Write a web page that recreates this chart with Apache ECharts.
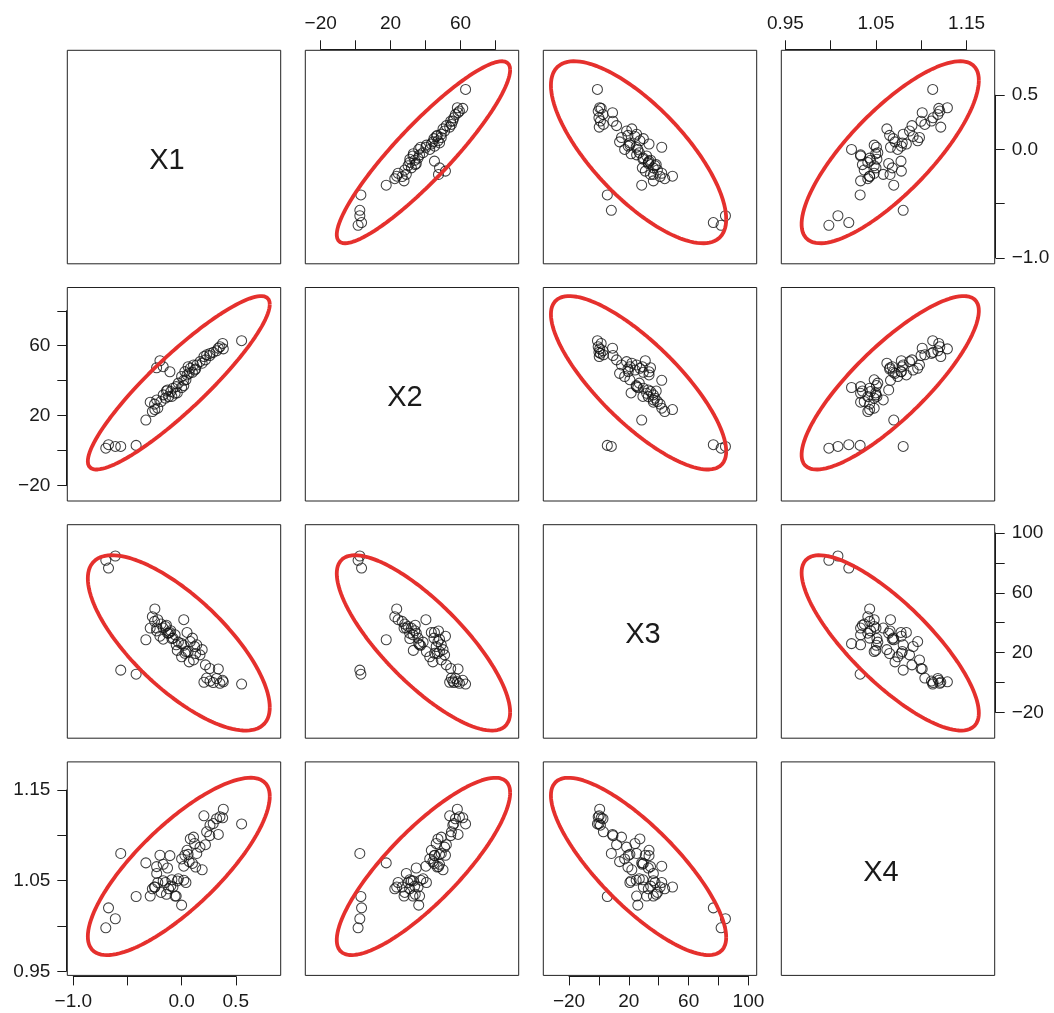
<!DOCTYPE html>
<html>
<head>
<meta charset="utf-8">
<script src="https://cdn.jsdelivr.net/npm/echarts@6/dist/echarts.min.js"></script>
<style>html,body{margin:0;padding:0;background:#fff}#c{width:1054px;height:1013px}</style>
</head>
<body>
<div id="c"></div>
<script>
// ---- variables (names shown on the diagonal) ----
const VAR_NAMES = ['X1', 'X2', 'X3', 'X4'];

// ---- observations (outliers, top group, spill, middle group, lower group) ----
const x1 = [-0.700, -0.675, -0.612, -0.562, -0.420, -0.330,
  0.554, 0.385, 0.379, 0.354, 0.323, 0.292, 0.262, 0.339, 0.231, 0.206,
  -0.200, -0.231, -0.108, -0.170,
  0.02, 0.05, 0.10, 0.08, 0.12, 0.14, 0.06, 0.03, 0.17, 0.11, 0.22, 0.00, 0.07, 0.13, 0.19, 0.26,
  -0.247, -0.27, -0.22, -0.25, -0.19, -0.23, -0.15, -0.12, -0.17, -0.10, -0.06, -0.08, 0.00, -0.13, -0.03, 0.04, -0.05, -0.29, -0.14, -0.09, 0.02, -0.04];
const x2 = [1.4, 3.4, 2.4, 2.4, 3.0, 17.5,
  62.9, 58.2, 61.3, 59.4, 57.1, 56.2, 55.6, 58.6, 54.8, 53.8,
  51.4, 47.4, 45.1, 48.0,
  40.2, 43.3, 44.8, 47.1, 46.1, 49.0, 48.0, 45.2, 50.9, 49.0, 51.9, 42.4, 44.2, 46.7, 50.0, 54.4,
  23.5, 22.4, 24.3, 26.6, 28.1, 29.0, 30.0, 30.9, 31.9, 33.8, 32.8, 35.7, 36.1, 34.7, 38.6, 40.5, 36.6, 27.7, 34.1, 31.0, 37.2, 33.0];
const x3 = [81.7, 76.5, 84.6, 8.3, 5.6, 28.6,
  -1.0, 0.5, 1.5, -0.5, 2.7, 0.0, 1.0, 9.1, 3.0, 0.2,
  31.0, 34.5, 33.5, 29.0,
  42.0, 33.5, 29.7, 27.4, 24.1, 25.2, 20.7, 19.6, 18.5, 15.1, 11.8, 17.2, 13.8, 19.4, 22.0, 9.4,
  49.2, 44.0, 42.0, 40.9, 39.1, 36.4, 37.5, 33.0, 36.4, 34.6, 31.9, 29.7, 26.0, 33.0, 27.0, 20.7, 25.2, 36.4, 38.3, 29.4, 24.9, 21.5];
const x4 = [0.998, 1.020, 1.008, 1.080, 1.0325, 1.0696,
  1.1126, 1.1288, 1.1193, 1.1204, 1.1183, 1.1130, 1.1112, 1.1010, 1.1039, 1.1215,
  1.078, 1.0655, 1.0776, 1.068,
  1.066, 1.0835, 1.069, 1.096, 1.091, 1.080, 1.079, 1.078, 1.087, 1.098, 1.0897, 1.074, 1.071, 1.065, 1.062, 1.0997,
  1.043, 1.041, 1.048, 1.043, 1.037, 1.058, 1.048, 1.041, 1.050, 1.044, 1.033, 1.043, 1.023, 1.064, 1.052, 1.048, 1.033, 1.033, 1.035, 1.051, 1.0505, 1.0497];

// ---- ellipse parameters (centre, half-extent along each variable, correlations) ----
const ELL_CENTER = [-0.026, 38.8, 26.5, 1.0657];
const ELL_HALF = [0.84, 49.6, 58.6, 0.0978];
const ELL_CORR = [
  [1, 0.905, -0.735, 0.79],
  [0.905, 1, -0.79, 0.83],
  [-0.735, -0.79, 1, -0.80],
  [0.79, 0.83, -0.80, 1]
];

// ---- axis limits of the panels ----
const AXIS_LO = [-1.0555, -28.8, -37.2, 0.9455];
const AXIS_HI = [0.915, 93.3, 105.5, 1.181];

// ---- outer tick axes ----
const TICK_MIN = [-1.0, -20, -20, 0.95];
const TICK_MAX = [0.5, 80, 100, 1.15];
const TICK_STEP = [0.5, 20, 20, 0.05];
const X1_TICK_LABELS = ['\u22121.0', '0.0', '0.5'];
const X2_TICK_LABELS = ['\u221220', '20', '60'];
const X3_TICK_LABELS = ['\u221220', '20', '60', '100'];
const X4_TICK_LABELS = ['0.95', '1.05', '1.15'];
const TICK_LABELS = [X1_TICK_LABELS, X2_TICK_LABELS, X3_TICK_LABELS, X4_TICK_LABELS];

// ---- layout / style ----
const L0 = 67.3, SX = 238, T0 = 50.3, SY = 237.2, PW = 213.4, PH = 213.5;
const FONT = "'Liberation Sans', Arial, Helvetica, sans-serif";
const INK = '#111111';
const RED = '#e5302d';

const DATA = [x1, x2, x3, x4];
const n = x1.length;

function panelLeft(c) { return L0 + c * SX; }
function panelTop(r) { return T0 + r * SY; }

function labelFormatter(v) {
  return function (val) {
    for (const s of TICK_LABELS[v]) {
      if (Math.abs(Number(s.replace('\u2212', '-')) - val) < 1e-6) return s;
    }
    return '';
  };
}

function ellipsePoints(xi, yi) {
  const pts = [];
  const r = ELL_CORR[yi][xi];
  const s = Math.sqrt(1 - r * r);
  const N = 240;
  for (let k = 0; k <= N; k++) {
    const t = 2 * Math.PI * k / N;
    pts.push([
      ELL_CENTER[xi] + ELL_HALF[xi] * Math.cos(t),
      ELL_CENTER[yi] + ELL_HALF[yi] * (r * Math.cos(t) + s * Math.sin(t))
    ]);
  }
  return pts;
}

const grids = [], xAxes = [], yAxes = [], series = [], graphics = [];

for (let r = 0; r < 4; r++) {
  for (let c = 0; c < 4; c++) {
    const gi = grids.length;
    grids.push({
      left: panelLeft(c), top: panelTop(r), width: PW, height: PH,
      show: true, borderColor: '#222222', borderWidth: 1, backgroundColor: 'transparent',
      containLabel: false
    });
    xAxes.push({ gridIndex: gi, type: 'value', min: AXIS_LO[c], max: AXIS_HI[c], show: false });
    yAxes.push({ gridIndex: gi, type: 'value', min: AXIS_LO[r], max: AXIS_HI[r], show: false });
    if (r === c) {
      graphics.push({
        type: 'text',
        x: panelLeft(c) + PW / 2 - 7,
        y: panelTop(r) + PH / 2 + 4,
        style: { text: VAR_NAMES[r], fontSize: 29, fontFamily: FONT, fill: '#1a1a1a', align: 'center', verticalAlign: 'middle' }
      });
    } else {
      const pts = [];
      for (let k = 0; k < n; k++) pts.push([DATA[c][k], DATA[r][k]]);
      series.push({
        type: 'scatter', xAxisIndex: gi, yAxisIndex: gi, data: pts,
        symbol: 'circle', symbolSize: 10,
        itemStyle: { color: 'rgba(255,255,255,0)', borderColor: INK, borderWidth: 1.05 },
        silent: true, z: 2
      });
      series.push({
        type: 'line', xAxisIndex: gi, yAxisIndex: gi, data: ellipsePoints(c, r),
        showSymbol: false, symbol: 'none', smooth: false,
        lineStyle: { color: RED, width: 3.8 }, silent: true, z: 3
      });
    }
  }
}

// outer tick axes: columns (x) and rows (y)
const X_SIDE = ['bottom', 'top', 'bottom', 'top'];
const Y_SIDE = ['right', 'left', 'right', 'left'];
const axisCommon = (v) => ({
  type: 'value', min: TICK_MIN[v], max: TICK_MAX[v], interval: TICK_STEP[v], offset: 1,
  axisLine: { show: true, onZero: false, lineStyle: { color: '#1a1a1a', width: 1 } },
  axisTick: { show: true, inside: false, length: 9, lineStyle: { color: '#1a1a1a', width: 1 } },
  axisLabel: { show: true, margin: 16, fontSize: 19, fontFamily: FONT, color: '#1a1a1a',
    showMinLabel: true, showMaxLabel: true, formatter: labelFormatter(v) },
  splitLine: { show: false }
});

for (let v = 0; v < 4; v++) {
  // x axis for column v
  const span = AXIS_HI[v] - AXIS_LO[v];
  const row = X_SIDE[v] === 'top' ? 0 : 3;
  let gi = grids.length;
  grids.push({
    left: panelLeft(v) + (TICK_MIN[v] - AXIS_LO[v]) / span * PW,
    width: (TICK_MAX[v] - TICK_MIN[v]) / span * PW,
    top: panelTop(row), height: PH, show: false
  });
  xAxes.push(Object.assign({ gridIndex: gi, position: X_SIDE[v] }, axisCommon(v)));
  yAxes.push({ gridIndex: gi, type: 'value', min: 0, max: 1, show: false });

  // y axis for row v
  const col = Y_SIDE[v] === 'right' ? 3 : 0;
  gi = grids.length;
  grids.push({
    left: panelLeft(col), width: PW,
    top: panelTop(v) + (AXIS_HI[v] - TICK_MAX[v]) / span * PH,
    height: (TICK_MAX[v] - TICK_MIN[v]) / span * PH, show: false
  });
  xAxes.push({ gridIndex: gi, type: 'value', min: 0, max: 1, show: false });
  yAxes.push(Object.assign({ gridIndex: gi, position: Y_SIDE[v] }, axisCommon(v)));
}

const chart = echarts.init(document.getElementById('c'), null, { renderer: 'canvas' });
chart.setOption({
  backgroundColor: '#ffffff',
  animation: false,
  grid: grids,
  xAxis: xAxes,
  yAxis: yAxes,
  series: series,
  graphic: graphics
});
</script>
</body>
</html>
